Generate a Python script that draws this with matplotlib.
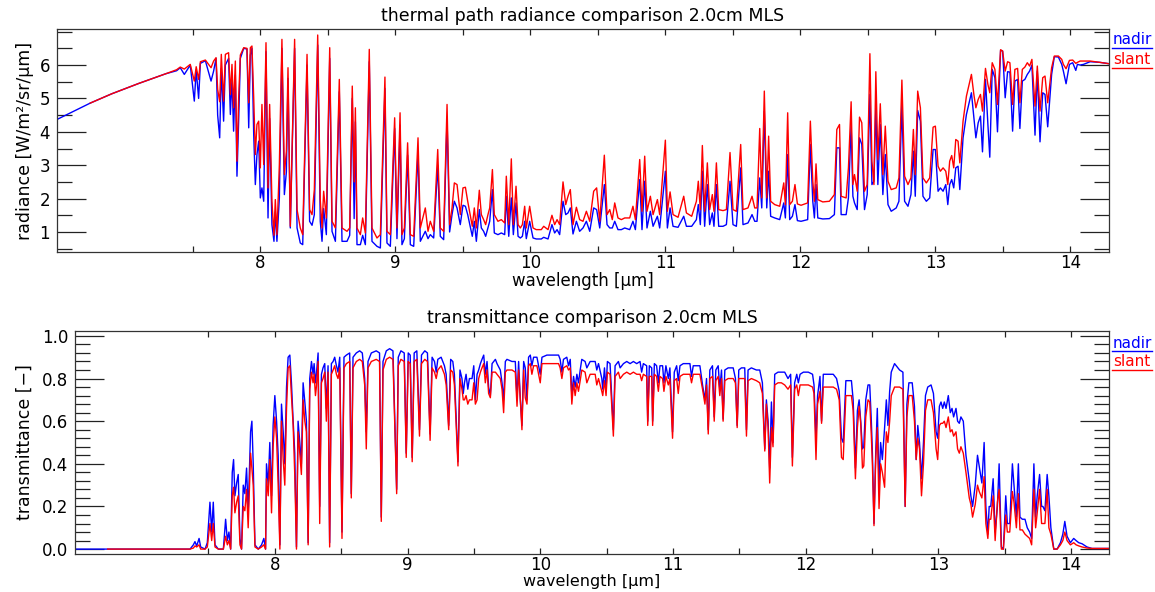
import numpy as np
import matplotlib
matplotlib.use("Agg")
import matplotlib.pyplot as plt
from matplotlib.lines import Line2D
from matplotlib.ticker import FixedLocator, MultipleLocator

nan = float("nan")

# ---- radiance panel data (wavelength [um], slant, nadir) ----
wl_rad = [
  6.494, 6.74, 6.90, 7.10, 7.30, 7.38, 7.407, 7.437, 7.481, 7.511, 7.525, 7.543, 7.556, 7.593,
  7.635, 7.654, 7.672, 7.684, 7.699, 7.711, 7.728, 7.741, 7.765, 7.778, 7.790, 7.802, 7.815,
  7.827, 7.840, 7.852, 7.877, 7.901, 7.914, 7.926, 7.938, 7.951, 7.963, 7.975, 7.988, 8.000,
  8.012, 8.025, 8.042, 8.057, 8.069, 8.086, 8.101, 8.111, 8.123, 8.141, 8.160, 8.178, 8.193,
  8.205, 8.222, 8.254, 8.272, 8.296, 8.314, 8.346, 8.365, 8.383, 8.400, 8.425, 8.444, 8.457,
  8.469, 8.489, 8.514, 8.531, 8.556, 8.585, 8.605, 8.642, 8.662, 8.681, 8.695, 8.704, 8.716,
  8.741, 8.758, 8.778, 8.807, 8.827, 8.864, 8.889, 8.923, 8.938, 8.963, 8.995, 9.012, 9.035,
  9.049, 9.067, 9.091, 9.111, 9.136, 9.168, 9.185, 9.222, 9.242, 9.259, 9.284, 9.314, 9.333,
  9.358, 9.383, 9.402, 9.420, 9.437, 9.457, 9.481, 9.501, 9.519, 9.536,
  9.570, 9.585, 9.600, 9.622, 9.637, 9.654, 9.669, 9.686, 9.699, 9.719, 9.733, 9.760, 9.785,
  9.810, 9.822, 9.840, 9.859, 9.874, 9.894, 9.909, 9.926, 9.941, 9.958, 9.970, 9.995, 10.020,
  10.044, 10.081, 10.099, 10.131, 10.160, 10.180, 10.198, 10.217, 10.242, 10.262, 10.279,
  10.296, 10.316, 10.341, 10.365, 10.390, 10.415, 10.440, 10.469, 10.491, 10.514, 10.548,
  10.568, 10.588, 10.607, 10.625, 10.649, 10.674, 10.699, 10.736, 10.760, 10.778, 10.810,
  10.827, 10.847, 10.864, 10.889, 10.909, 10.941, 10.958, 11.000, 11.015, 11.035, 11.057,
  11.094, 11.136, 11.156, 11.195, 11.230, 11.244, 11.259, 11.274, 11.291, 11.311, 11.328,
  11.348, 11.360, 11.378, 11.395, 11.427, 11.452, 11.479, 11.501, 11.526, 11.558, 11.575,
  11.612, 11.642, 11.662, 11.679, 11.699, 11.714, 11.733, 11.751, 11.765, 11.780, 11.810,
  11.847, 11.877, 11.889, 11.906, 11.921, 11.941,
  11.960, 11.978, 12.005, 12.054, 12.074, 12.092, 12.104, 12.116, 12.129, 12.166, 12.215,
  12.252, 12.270, 12.290, 12.302, 12.339, 12.356, 12.376, 12.389, 12.401, 12.421, 12.438,
  12.455, 12.475, 12.495, 12.515, 12.530, 12.545, 12.559, 12.574, 12.592, 12.611, 12.629,
  12.649, 12.673, 12.710, 12.730, 12.752, 12.772, 12.797, 12.819, 12.837, 12.851, 12.869,
  12.889, 12.908, 12.933, 12.958, 12.983, 13.000, 13.020, 13.037, 13.057, 13.077, 13.092,
  13.106, 13.121, 13.136, 13.151, 13.168, 13.181, 13.205, 13.230, 13.267, 13.285, 13.300,
  13.317, 13.334, 13.349, 13.371, 13.389, 13.403, 13.421, 13.441, 13.460, 13.483, 13.498,
  13.517, 13.535, 13.552, 13.572, 13.589, 13.609, 13.626, 13.644, 13.663, 13.681, 13.698,
  13.715, 13.738, 13.755, 13.775, 13.795, 13.812, 13.832, 13.861, 13.881, 13.911, 13.936,
  13.948, 13.968, 13.993, 14.017, 14.040, 14.052, 14.072, 14.097, 14.146, 14.220, 14.286,
]
rad_slant = [
  nan, 4.86, 5.14, 5.45, 5.74, 5.86, 5.94, 5.88, 6.02, 5.52, 5.95, 5.57, 6.10, 6.15,
  5.92, 6.12, 6.22, 5.27, 4.90, 6.32, 4.92, 6.32, 6.37, 5.12, 6.02, 4.72, 6.12,
  3.12, 5.07, 6.30, 6.52, 6.50, 4.87, 6.52, 6.57, 5.02, 3.32, 4.22, 4.32, 2.92,
  4.82, 3.02, 6.67, 2.32, 4.82, 1.92, 0.90, 1.97, 0.92, 3.02, 6.77, 2.72, 3.42,
  5.92, 1.17, 6.77, 1.67, 1.12, 0.92, 6.32, 1.67, 1.52, 2.27, 6.90, 1.97, 1.12,
  2.22, 1.42, 6.52, 1.32, 1.12, 5.57, 1.12, 1.02, 1.12, 5.37, 2.50, 4.72, 1.12,
  0.92, 1.42, 0.97, 6.47, 1.12, 0.82, 0.92, 5.64, 1.02, 0.92, 4.42, 1.12, 4.57,
  0.92, 1.12, 3.67, 0.92, 0.87, 3.82, 1.12, 1.72, 1.02, 1.32, 1.02, 3.47, 1.12,
  1.02, 4.82, 1.22, 1.72, 2.47, 2.42, 1.52, 2.32, 2.34, 1.92,
  1.17, 1.72, 1.12, 2.25, 1.52, 1.37, 1.22, 1.52, 1.72, 2.87, 1.52, 1.32, 1.37,
  1.27, 2.67, 1.22, 3.19, 1.22, 2.37, 1.22, 1.12, 1.22, 1.77, 1.12, 1.77, 1.12,
  1.07, 1.07, 1.17, 1.07, 1.50, 1.22, 1.37, 1.22, 2.50, 1.82, 2.07,
  2.27, 1.22, 1.74, 1.37, 1.32, 1.62, 1.32, 2.22, 2.32, 1.32, 3.30,
  1.52, 1.67, 1.37, 1.87, 1.42, 1.37, 1.42, 1.42, 1.77, 1.37, 3.17,
  1.62, 3.27, 1.62, 2.07, 1.52, 1.97, 1.52, 3.75, 1.62, 2.20, 1.52,
  1.44, 2.07, 1.57, 1.47, 1.92, 2.52, 1.67, 3.59, 1.62, 3.07, 1.67,
  2.12, 1.62, 3.07, 1.67, 1.64, 1.67, 3.38, 1.67, 1.62, 3.62, 1.67,
  1.72, 2.07, 1.72, 1.72, 4.10, 2.02, 5.22, 2.02, 3.87, 1.92, 1.82,
  1.77, 2.47, 1.82, 4.57, 1.82, 1.92,
  2.42, 1.84, 1.80, 1.87, 4.32, 2.52, 1.92, 3.04, 1.97, 1.90, 1.92,
  2.12, 4.07, 4.22, 2.07, 2.02, 2.92, 4.90, 2.42, 2.72, 2.22, 4.44,
  4.27, 2.22, 2.42, 6.34, 3.12, 2.42, 5.80, 3.17, 4.84, 2.72, 4.17,
  2.52, 2.27, 2.32, 2.62, 5.55, 2.67, 2.42, 2.62, 4.07, 2.72, 5.22,
  4.72, 2.62, 2.47, 2.62, 4.14, 4.17, 2.97, 2.82, 2.92, 2.82, 2.42,
  3.12, 3.29, 2.92, 3.77, 3.72, 3.07, 4.32, 5.07, 5.72, 5.12, 4.72,
  4.97, 5.12, 4.62, 5.90, 5.42, 5.17, 6.07, 5.87, 4.82, 6.46, 6.42,
  5.82, 6.10, 6.07, 4.82, 5.87, 5.90, 4.87, 5.87, 5.94, 6.07, 5.97,
  6.17, 4.77, 5.97, 4.62, 5.62, 5.67, 4.87, 5.92, 6.27, 6.27, 6.17,
  6.02, 5.89, 6.14, 6.15, 6.05, 6.08, 6.12, 6.12, 6.12, 6.08, 6.04,
]
rad_nadir = [
  4.37, 4.86, 5.14, 5.45, 5.74, 5.83, 5.92, 5.72, 6.00, 4.92, 5.85, 5.00, 6.05, 6.13,
  5.52, 5.82, 6.20, 4.50, 3.82, 5.90, 4.32, 6.00, 6.20, 4.52, 5.60, 4.02, 5.70,
  2.67, 4.40, 6.20, 6.50, 6.48, 4.12, 6.30, 6.50, 3.92, 2.42, 3.32, 3.72, 2.02,
  2.32, 1.92, 6.40, 1.42, 4.40, 1.22, 0.72, 1.60, 0.72, 2.02, 6.50, 2.12, 2.80,
  5.60, 1.12, 6.50, 1.12, 0.67, 0.62, 6.00, 1.32, 1.20, 1.52, 6.60, 1.32, 0.72,
  1.70, 0.92, 6.20, 1.02, 0.72, 5.20, 0.72, 0.72, 0.90, 5.00, 1.40, 4.30, 0.62,
  0.62, 0.90, 0.62, 6.10, 0.72, 0.57, 0.52, 5.30, 0.67, 0.57, 4.10, 0.80, 4.20,
  0.62, 0.80, 3.30, 0.62, 0.57, 3.40, 0.72, 1.02, 0.80, 0.92, 0.82, 3.00, 0.87,
  0.77, 4.40, 1.00, 1.52, 1.92, 1.72, 1.22, 1.80, 1.77, 1.52,
  0.87, 1.32, 0.72, 1.67, 1.12, 1.02, 0.87, 1.12, 1.32, 2.27, 0.97, 0.92, 0.97,
  0.92, 2.07, 0.87, 2.02, 0.92, 1.87, 0.87, 0.82, 0.87, 1.32, 0.80, 1.32, 0.82,
  0.79, 0.79, 0.84, 0.79, 1.22, 0.97, 1.07, 0.92, 1.92, 1.52, 1.57,
  1.72, 0.94, 1.32, 1.02, 1.12, 1.32, 1.02, 1.72, 1.67, 1.12, 2.42,
  1.22, 1.12, 1.12, 1.32, 1.07, 1.07, 1.12, 1.07, 1.32, 1.07, 2.57,
  1.07, 2.52, 1.12, 1.62, 1.17, 1.47, 1.12, 2.82, 1.12, 1.72, 1.17,
  1.14, 1.47, 1.17, 1.17, 1.37, 1.82, 1.22, 2.82, 1.17, 2.42, 1.22,
  1.57, 1.17, 2.42, 1.17, 1.17, 1.22, 2.52, 1.22, 1.17, 2.92, 1.22,
  1.27, 1.52, 1.32, 1.32, 2.62, 1.72, 4.62, 1.72, 2.82, 1.47, 1.42,
  1.37, 1.87, 1.42, 3.32, 1.37, 1.47,
  1.82, 1.34, 1.32, 1.37, 3.62, 1.92, 1.42, 2.42, 1.42, 1.39, 1.40,
  1.52, 3.52, 3.52, 1.52, 1.52, 2.02, 4.22, 2.07, 1.87, 1.67, 3.82,
  3.62, 1.67, 2.12, 5.12, 2.42, 2.52, 4.72, 2.42, 4.22, 2.12, 3.32,
  1.82, 1.62, 1.72, 1.92, 4.82, 1.92, 1.77, 2.12, 3.42, 2.07, 4.64,
  4.32, 2.07, 1.92, 2.02, 3.47, 3.47, 2.22, 2.32, 2.22, 2.42, 1.82,
  2.42, 2.57, 2.32, 2.92, 2.97, 2.27, 3.82, 4.52, 5.17, 4.42, 3.82,
  4.27, 4.47, 3.40, 5.57, 4.22, 3.24, 5.87, 5.62, 4.00, 6.44, 6.42,
  5.02, 5.80, 5.79, 4.02, 5.52, 5.57, 4.10, 5.52, 5.57, 5.72, 5.82,
  6.00, 3.90, 5.82, 3.70, 5.17, 5.12, 4.15, 5.72, 6.25, 6.24, 6.02,
  5.82, 5.44, 6.02, 6.07, 5.84, 6.02, 6.00, 6.02, 6.10, 6.08, 6.04,
]

# ---- transmittance panel data (wavelength [um], nadir, slant) ----
wl_tau = [
  6.494, 6.74, 7.286, 7.361, 7.386, 7.398, 7.411, 7.429, 7.441, 7.474, 7.491, 7.511, 7.524,
  7.536, 7.549, 7.574, 7.612, 7.629, 7.642, 7.654, 7.667, 7.679, 7.689, 7.699, 7.712, 7.724,
  7.737, 7.749, 7.762, 7.774, 7.787, 7.799, 7.817, 7.827, 7.837, 7.850, 7.875, 7.900, 7.917,
  7.930, 7.937, 7.950, 7.962, 7.975, 7.987, 8.000, 8.013, 8.025, 8.038, 8.050, 8.063, 8.075,
  8.088, 8.100, 8.113, 8.125, 8.138, 8.150, 8.163, 8.175, 8.188, 8.200, 8.213, 8.226, 8.238,
  8.251, 8.263, 8.276, 8.288, 8.296, 8.306, 8.313, 8.326, 8.338, 8.351, 8.363, 8.376, 8.388,
  8.401, 8.413, 8.426, 8.439, 8.451, 8.464, 8.476, 8.489, 8.506, 8.521, 8.539, 8.564, 8.576,
  8.589, 8.614, 8.639, 8.659, 8.677, 8.689, 8.702, 8.727, 8.764, 8.789, 8.802, 8.815, 8.840,
  8.865, 8.890, 8.918, 8.930, 8.950, 8.975, 8.990, 9.005, 9.020, 9.035, 9.050, 9.070, 9.090,
  9.105, 9.130, 9.150, 9.170, 9.185, 9.203, 9.216, 9.228, 9.253, 9.278, 9.291, 9.310, 9.325,
  9.341, 9.353, 9.380, 9.395, 9.410, 9.420, 9.429, 9.441, 9.454, 9.466,
  9.486, 9.499, 9.511, 9.524, 9.536, 9.549, 9.561, 9.574, 9.586, 9.599, 9.611, 9.624, 9.637,
  9.662, 9.674, 9.699, 9.712, 9.724, 9.737, 9.749, 9.787, 9.812, 9.825, 9.837, 9.850, 9.862,
  9.875, 9.887, 9.900, 9.912, 9.925, 9.937, 9.950, 9.975, 10.000, 10.013, 10.050, 10.100,
  10.138, 10.150, 10.163, 10.175, 10.200, 10.213, 10.226, 10.238, 10.251, 10.263, 10.276,
  10.288, 10.301, 10.313, 10.338, 10.351, 10.376, 10.414, 10.426, 10.439, 10.464, 10.471,
  10.484, 10.496, 10.506, 10.526, 10.551, 10.564, 10.589, 10.602, 10.627, 10.652, 10.677,
  10.702, 10.727, 10.752, 10.764, 10.777, 10.802, 10.810, 10.822, 10.840, 10.847, 10.860,
  10.877, 10.890, 10.902, 10.922, 10.932, 10.947, 10.965, 10.977, 10.997, 11.010, 11.028,
  11.040, 11.053, 11.078, 11.128, 11.140, 11.153, 11.203, 11.223, 11.241, 11.253, 11.266,
  11.278, 11.298, 11.311, 11.323, 11.341, 11.353, 11.366, 11.378, 11.391, 11.416, 11.454,
  11.471, 11.484, 11.496, 11.516, 11.541, 11.554, 11.566, 11.591, 11.629, 11.654, 11.674,
  11.692, 11.704, 11.717, 11.729, 11.742, 11.754, 11.767, 11.792, 11.817, 11.842, 11.867,
  11.887, 11.900, 11.917, 11.933, 11.945, 11.958, 11.983, 12.020, 12.052, 12.063, 12.078,
  12.090, 12.108, 12.120, 12.133, 12.158, 12.208, 12.233, 12.253, 12.270, 12.283, 12.303,
  12.320, 12.345, 12.358, 12.375, 12.390, 12.403, 12.415, 12.428, 12.438, 12.453, 12.470,
  12.483, 12.495, 12.503, 12.515, 12.528, 12.540, 12.553, 12.565, 12.578, 12.595, 12.608,
  12.620, 12.633, 12.645, 12.670, 12.708, 12.733, 12.750, 12.763, 12.778, 12.803, 12.820,
  12.833, 12.845, 12.858, 12.873, 12.888, 12.903, 12.920, 12.945, 12.963, 12.983, 12.995,
  13.008, 13.020, 13.033, 13.045, 13.058, 13.075, 13.090, 13.103, 13.115, 13.133, 13.145,
  13.158, 13.170, 13.188, 13.208, 13.233, 13.245, 13.258, 13.278, 13.295, 13.308, 13.328,
  13.345, 13.358, 13.373, 13.383, 13.395, 13.413, 13.428, 13.445, 13.458, 13.475, 13.490,
  13.508, 13.520, 13.538, 13.558, 13.570, 13.588, 13.603, 13.615, 13.633, 13.653, 13.670,
  13.688, 13.703, 13.720, 13.733, 13.745, 13.763, 13.778, 13.788, 13.803, 13.820, 13.833,
  13.848, 13.870, 13.895, 13.920, 13.938, 13.953, 13.970, 13.995, 14.020, 14.038, 14.058,
  14.083, 14.120, 14.158, 14.286,
]
tau_nadir = [
  0.0, 0.0, 0.0, 0.0, 0.02, 0.035, 0.015, 0.05, 0.01, 0.0, 0.03, 0.22, 0.08,
  0.22, 0.02, 0.0, 0.0, 0.14, 0.04, 0.08, 0.0, 0.36, 0.42, 0.25, 0.31, 0.35,
  0.05, 0.0, 0.30, 0.26, 0.38, 0.17, 0.55, 0.60, 0.40, 0.02, 0.0, 0.02, 0.05,
  0.0, 0.40, 0.30, 0.50, 0.25, 0.58, 0.72, 0.60, 0.44, 0.02, 0.68, 0.55, 0.40,
  0.76, 0.90, 0.91, 0.78, 0.60, 0.45, 0.01, 0.60, 0.50, 0.40, 0.78, 0.69, 0.60,
  0.03, 0.80, 0.88, 0.82, 0.87, 0.78, 0.82, 0.92, 0.20, 0.82, 0.85, 0.87, 0.66,
  0.86, 0.03, 0.87, 0.88, 0.90, 0.86, 0.83, 0.90, 0.08, 0.90, 0.91, 0.92, 0.26,
  0.90, 0.92, 0.93, 0.92, 0.80, 0.55, 0.88, 0.92, 0.93, 0.92, 0.15, 0.88, 0.93,
  0.94, 0.93, 0.28, 0.90, 0.93, 0.92, 0.45, 0.92, 0.91, 0.43, 0.92, 0.93, 0.56,
  0.91, 0.93, 0.92, 0.54, 0.90, 0.88, 0.83, 0.89, 0.90, 0.86, 0.82, 0.58, 0.89,
  0.88, 0.82, 0.41, 0.84, 0.80, 0.73, 0.78, 0.82, 0.75, 0.80,
  0.80, 0.86, 0.70, 0.82, 0.84, 0.87, 0.89, 0.91, 0.82, 0.88, 0.76, 0.72, 0.87,
  0.89, 0.87, 0.84, 0.78, 0.70, 0.88, 0.89, 0.88, 0.88, 0.70, 0.88, 0.70, 0.58,
  0.88, 0.85, 0.70, 0.90, 0.91, 0.86, 0.90, 0.90, 0.82, 0.90, 0.91, 0.91,
  0.91, 0.89, 0.83, 0.89, 0.90, 0.86, 0.89, 0.72, 0.81, 0.76, 0.82,
  0.78, 0.84, 0.89, 0.88, 0.85, 0.88, 0.88, 0.84, 0.87, 0.80, 0.75,
  0.85, 0.75, 0.88, 0.87, 0.56, 0.86, 0.88, 0.85, 0.87, 0.88, 0.87,
  0.88, 0.87, 0.88, 0.83, 0.87, 0.86, 0.60, 0.86, 0.85, 0.60, 0.87,
  0.86, 0.78, 0.86, 0.86, 0.78, 0.86, 0.80, 0.85, 0.55, 0.83, 0.86,
  0.79, 0.86, 0.87, 0.87, 0.81, 0.86, 0.86, 0.77, 0.70, 0.80, 0.56,
  0.84, 0.86, 0.62, 0.84, 0.86, 0.75, 0.84, 0.61, 0.84, 0.85, 0.85,
  0.80, 0.58, 0.84, 0.85, 0.85, 0.56, 0.84, 0.85, 0.84, 0.84, 0.78,
  0.47, 0.70, 0.60, 0.38, 0.69, 0.50, 0.82, 0.83, 0.83, 0.83, 0.80,
  0.82, 0.43, 0.78, 0.82, 0.78, 0.82, 0.83, 0.83, 0.82, 0.77, 0.52,
  0.72, 0.81, 0.60, 0.82, 0.82, 0.82, 0.80, 0.74, 0.52, 0.50, 0.79,
  0.79, 0.79, 0.70, 0.38, 0.65, 0.70, 0.60, 0.47, 0.48, 0.70, 0.77,
  0.77, 0.60, 0.45, 0.12, 0.45, 0.66, 0.30, 0.50, 0.42, 0.57, 0.70,
  0.58, 0.74, 0.83, 0.87, 0.84, 0.83, 0.20, 0.68, 0.78, 0.78, 0.67,
  0.42, 0.58, 0.50, 0.33, 0.50, 0.72, 0.76, 0.77, 0.73, 0.55, 0.52,
  0.67, 0.69, 0.66, 0.69, 0.66, 0.72, 0.64, 0.66, 0.62, 0.66, 0.60,
  0.59, 0.62, 0.60, 0.44, 0.32, 0.25, 0.20, 0.30, 0.44, 0.39, 0.31,
  0.50, 0.20, 0.07, 0.20, 0.20, 0.33, 0.08, 0.20, 0.40, 0.01, 0.0,
  0.25, 0.12, 0.12, 0.40, 0.30, 0.15, 0.40, 0.15, 0.14, 0.14, 0.10,
  0.08, 0.05, 0.40, 0.15, 0.25, 0.35, 0.20, 0.20, 0.18, 0.35, 0.25,
  0.10, 0.0, 0.0, 0.03, 0.07, 0.13, 0.06, 0.03, 0.05, 0.04, 0.03,
  0.025, 0.01, 0.003, 0.003,
]
tau_slant = [
  nan, 0.0, 0.0, 0.0, 0.005, 0.015, 0.01, 0.02, 0.0, 0.0, 0.01, 0.12, 0.04,
  0.12, 0.01, 0.0, 0.0, 0.06, 0.02, 0.04, 0.0, 0.25, 0.29, 0.17, 0.22, 0.25,
  0.02, 0.0, 0.20, 0.18, 0.28, 0.10, 0.45, 0.38, 0.30, 0.01, 0.0, 0.01, 0.02,
  0.0, 0.33, 0.25, 0.42, 0.17, 0.48, 0.62, 0.52, 0.30, 0.0, 0.60, 0.42, 0.30,
  0.66, 0.85, 0.86, 0.72, 0.58, 0.35, 0.0, 0.55, 0.45, 0.35, 0.70, 0.60, 0.55,
  0.02, 0.75, 0.83, 0.78, 0.82, 0.72, 0.76, 0.88, 0.12, 0.78, 0.80, 0.83, 0.60,
  0.83, 0.01, 0.82, 0.84, 0.86, 0.82, 0.80, 0.85, 0.05, 0.85, 0.87, 0.88, 0.24,
  0.85, 0.88, 0.89, 0.88, 0.77, 0.47, 0.85, 0.88, 0.89, 0.88, 0.13, 0.84, 0.89,
  0.90, 0.89, 0.26, 0.86, 0.89, 0.88, 0.43, 0.88, 0.87, 0.41, 0.88, 0.89, 0.53,
  0.87, 0.89, 0.88, 0.51, 0.85, 0.83, 0.80, 0.84, 0.86, 0.82, 0.77, 0.56, 0.84,
  0.83, 0.77, 0.39, 0.80, 0.75, 0.70, 0.70, 0.72, 0.68, 0.70,
  0.70, 0.78, 0.68, 0.70, 0.80, 0.83, 0.85, 0.87, 0.78, 0.84, 0.73, 0.71, 0.83,
  0.83, 0.82, 0.80, 0.75, 0.64, 0.83, 0.84, 0.84, 0.83, 0.67, 0.84, 0.70, 0.56,
  0.84, 0.71, 0.68, 0.86, 0.87, 0.82, 0.86, 0.86, 0.78, 0.87, 0.87, 0.87,
  0.87, 0.85, 0.80, 0.85, 0.86, 0.84, 0.85, 0.68, 0.78, 0.72, 0.78,
  0.74, 0.79, 0.84, 0.83, 0.78, 0.82, 0.82, 0.77, 0.80, 0.74, 0.72,
  0.79, 0.72, 0.83, 0.82, 0.53, 0.81, 0.83, 0.80, 0.82, 0.83, 0.82,
  0.83, 0.82, 0.82, 0.79, 0.82, 0.81, 0.58, 0.81, 0.81, 0.58, 0.82,
  0.81, 0.74, 0.81, 0.80, 0.74, 0.81, 0.77, 0.80, 0.52, 0.79, 0.80,
  0.73, 0.81, 0.82, 0.82, 0.78, 0.82, 0.82, 0.75, 0.68, 0.77, 0.54,
  0.80, 0.81, 0.60, 0.79, 0.81, 0.72, 0.80, 0.60, 0.79, 0.80, 0.80,
  0.78, 0.57, 0.80, 0.80, 0.80, 0.53, 0.79, 0.80, 0.79, 0.78, 0.73,
  0.46, 0.68, 0.57, 0.31, 0.57, 0.48, 0.77, 0.78, 0.78, 0.77, 0.75,
  0.77, 0.39, 0.75, 0.77, 0.72, 0.77, 0.77, 0.77, 0.76, 0.73, 0.42,
  0.68, 0.74, 0.59, 0.76, 0.76, 0.76, 0.75, 0.70, 0.43, 0.42, 0.72,
  0.72, 0.72, 0.65, 0.33, 0.57, 0.67, 0.59, 0.38, 0.39, 0.62, 0.70,
  0.69, 0.53, 0.40, 0.11, 0.42, 0.57, 0.19, 0.40, 0.36, 0.29, 0.55,
  0.50, 0.60, 0.72, 0.76, 0.76, 0.75, 0.20, 0.62, 0.72, 0.72, 0.60,
  0.42, 0.52, 0.47, 0.25, 0.40, 0.65, 0.70, 0.70, 0.64, 0.47, 0.42,
  0.58, 0.59, 0.59, 0.60, 0.57, 0.62, 0.55, 0.56, 0.53, 0.55, 0.47,
  0.45, 0.48, 0.45, 0.36, 0.24, 0.21, 0.15, 0.21, 0.30, 0.27, 0.24,
  0.34, 0.12, 0.05, 0.14, 0.14, 0.25, 0.04, 0.22, 0.28, 0.0, 0.0,
  0.16, 0.08, 0.08, 0.27, 0.22, 0.10, 0.26, 0.09, 0.09, 0.07, 0.06,
  0.05, 0.02, 0.28, 0.10, 0.17, 0.28, 0.12, 0.12, 0.12, 0.28, 0.10,
  0.07, 0.0, 0.0, 0.02, 0.04, 0.08, 0.04, 0.02, 0.03, 0.02, 0.015,
  0.01, 0.005, 0.003, 0.003,
]

xtick_pos = [7.5, 8, 8.5, 9, 9.5, 10, 10.5, 11, 11.5, 12, 12.5, 13, 13.5, 14]
xtick_lab = ["", "8", "", "9", "", "10", "", "11", "", "12", "", "13", "", "14"]
rad_ticks = [1, 2, 3, 4, 5, 6]
tau_ticks = [0.0, 0.2, 0.4, 0.6, 0.8, 1.0]

BLUE = "#0000ff"
RED = "#ff0000"
FS = 12

plt.rcParams["font.family"] = ["DejaVu Sans"]
plt.rcParams["font.size"] = FS

fig = plt.figure(figsize=(11.55, 5.92), dpi=100)
W, H = 1155.0, 592.0


def make_axes(l, t, r, b):
  return fig.add_axes([l / W, 1 - b / H, (r - l) / W, (b - t) / H])


def style(ax, ymaj, yminor, ylo, yhi):
  ax.set_xlim(6.494, 14.286)
  ax.set_ylim(ylo, yhi)
  ax.xaxis.set_major_locator(FixedLocator(xtick_pos))
  ax.set_xticklabels(xtick_lab)
  ax.yaxis.set_major_locator(FixedLocator(ymaj))
  ax.yaxis.set_minor_locator(MultipleLocator(yminor))
  ax.tick_params(axis="both", which="both", direction="in", top=True, right=True,
                 width=0.9, color="#222222", labelsize=FS)
  ax.tick_params(axis="x", which="major", length=4.5, pad=1.5)
  ax.tick_params(axis="y", which="major", length=21, pad=5)
  ax.tick_params(axis="y", which="minor", length=10.5)
  for s in ax.spines.values():
    s.set_linewidth(0.9)
    s.set_color("#333333")


def legend(y_nadir, y_slant):
  for y, txt, c in [(y_nadir, "nadir", BLUE), (y_slant, "slant", RED)]:
    fig.text(1113 / W, 1 - y / H, txt, color=c, fontsize=11, ha="left", va="center")
    fig.add_artist(Line2D([1112 / W, 1152 / W], [1 - (y + 8) / H] * 2, color=c, lw=1.0))


# radiance panel
ax1 = make_axes(57, 29, 1109, 252)
ax1.plot(wl_rad, rad_nadir, color=BLUE, lw=1.0)
ax1.plot(wl_rad, rad_slant, color=RED, lw=1.0)
style(ax1, rad_ticks, 0.5, 0.40, 7.08)
ax1.set_yticklabels([str(v) for v in rad_ticks])
ax1.set_title("thermal path radiance comparison 2.0cm MLS", fontsize=12.5, pad=6)
ax1.set_xlabel("wavelength [µm]", fontsize=FS, labelpad=0)
ax1.set_ylabel("radiance [W/m²/sr/µm]", fontsize=12.5, labelpad=4)
legend(40, 60)

# transmittance panel
ax2 = make_axes(75, 331, 1109, 554)
ax2.plot(wl_tau, tau_nadir, color=BLUE, lw=1.0)
ax2.plot(wl_tau, tau_slant, color=RED, lw=1.0)
style(ax2, tau_ticks, 0.04, -0.023, 1.023)
ax2.set_yticklabels(["%.1f" % v for v in tau_ticks])
ax2.set_title("transmittance comparison 2.0cm MLS", fontsize=12.5, pad=6)
ax2.set_xlabel("wavelength [µm]", fontsize=11.5, labelpad=0)
ax2.set_ylabel("transmittance [−]", fontsize=12.5, labelpad=6)
legend(343, 362)

fig.savefig("out.png", dpi=100)
